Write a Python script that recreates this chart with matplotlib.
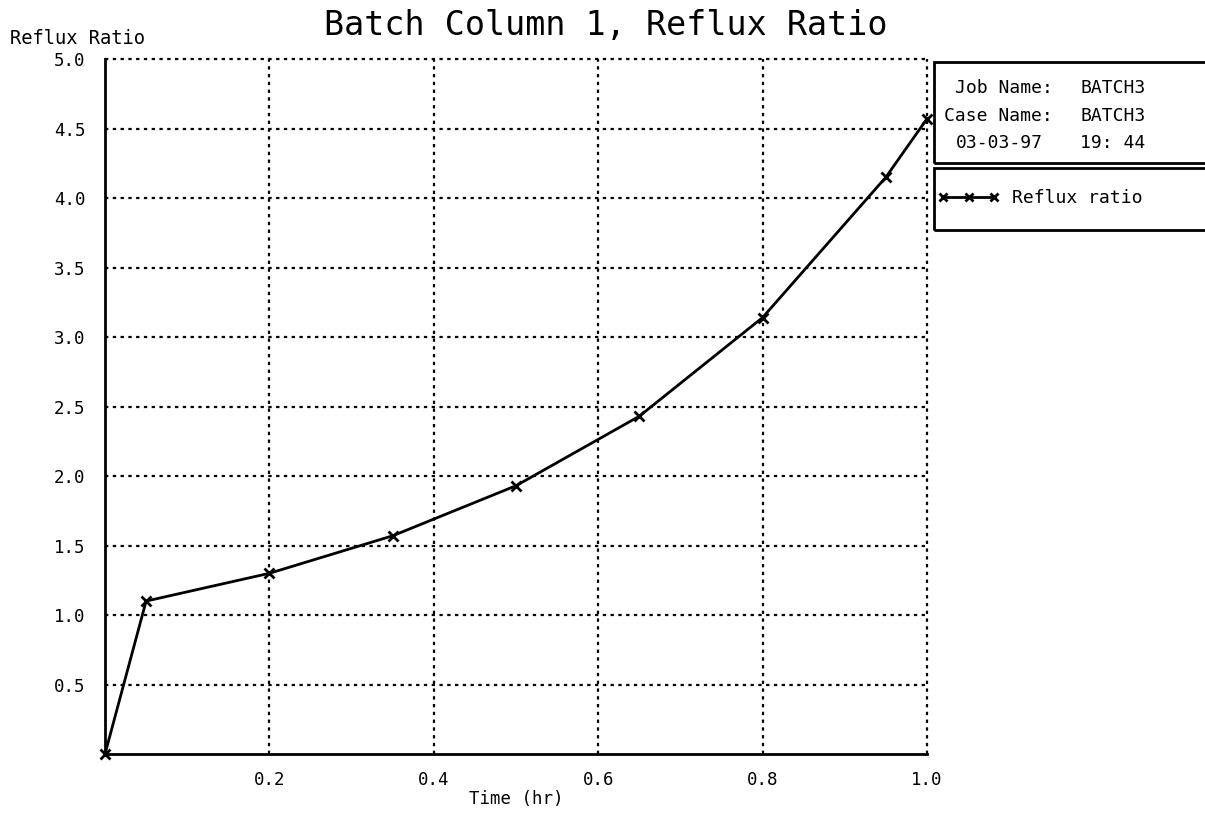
import matplotlib
matplotlib.use("Agg")
import matplotlib.pyplot as plt
from matplotlib.patches import Rectangle

# data
time_hr = [0.0, 0.05, 0.2, 0.35, 0.5, 0.65, 0.8, 0.95, 1.0]
reflux = [0.0, 1.10, 1.30, 1.57, 1.93, 2.43, 3.14, 4.15, 4.57]
xticks = [0.2, 0.4, 0.6, 0.8, 1.0]
yticks = [0.5, 1.0, 1.5, 2.0, 2.5, 3.0, 3.5, 4.0, 4.5, 5.0]
info_rows = [("Job Name:", "BATCH3"), ("Case Name:", "BATCH3"), ("03-03-97", "19: 44")]

W, H = 1205, 816
plt.rcParams['font.family'] = ['DejaVu Sans Mono']
fig = plt.figure(figsize=(W / 100, H / 100), dpi=100)
ax = fig.add_axes([105 / W, 1 - 754 / H, (927 - 105) / W, (754 - 59) / H])

line, = ax.plot(time_hr, reflux, color='k', lw=2, marker='x', ms=7, mew=2,
                label='Reflux ratio', clip_on=False, zorder=5)

ax.set_xlim(0, 1.0)
ax.set_ylim(0, 5.0)
ax.set_xticks(xticks)
ax.set_yticks(yticks)
ax.set_xticklabels([f"{v:.1f}" for v in xticks])
ax.set_yticklabels([f"{v:.1f}" for v in yticks])
ax.tick_params(length=0, labelsize=12.5, pad=14)
ax.tick_params(axis='x', pad=12)
ax.grid(True, color='k', ls=(0, (1.5, 2)), lw=1.6)
for gl in ax.get_xgridlines() + ax.get_ygridlines():
    gl.set_clip_on(False)
for s in ['top', 'right']:
    ax.spines[s].set_visible(False)
for s in ['left', 'bottom']:
    ax.spines[s].set_linewidth(2)

fig.text(516 / W, 1 - 799 / H, "Time (hr)", ha='center', va='center', fontsize=12.5)
fig.text(10 / W, 1 - 38 / H, "Reflux Ratio", ha='left', va='center', fontsize=13.5)
fig.text(606 / W, 1 - 25 / H, "Batch Column 1, Reflux Ratio", ha='center',
         va='center', fontsize=24)

# info box and legend box on the right
fig.patches.append(Rectangle((934 / W, 1 - 163 / H), 300 / W, 101 / H,
                             transform=fig.transFigure, fill=False, lw=2, ec='k'))
fig.patches.append(Rectangle((934 / W, 1 - 230 / H), 300 / W, 62 / H,
                             transform=fig.transFigure, fill=False, lw=2, ec='k'))
row_y = [88, 116, 143]
left_x = [955, 944, 956]
for (a, b), y, x0 in zip(info_rows, row_y, left_x):
    fig.text(x0 / W, 1 - y / H, a, ha='left', va='center', fontsize=13)
    fig.text(1080 / W, 1 - y / H, b, ha='left', va='center', fontsize=13)

fig.legend(handles=[line], loc='center left', bbox_to_anchor=(938 / W, 1 - 198 / H),
           frameon=False, numpoints=3, handlelength=3.4, handletextpad=0.7,
           fontsize=13, borderaxespad=0, borderpad=0, markerscale=0.8)

fig.savefig("out.png", dpi=100)
